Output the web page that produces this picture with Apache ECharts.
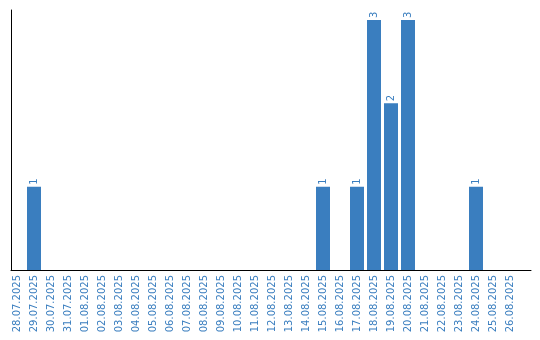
<!DOCTYPE html>
<html><head><meta charset="utf-8">
<script src="https://cdn.jsdelivr.net/npm/echarts@6/dist/echarts.min.js"></script>
<style>html,body{margin:0;padding:0;background:#fff}#c{width:540px;height:340px}</style>
</head><body><div id="c"></div>
<script>
const categories = ["28.07.2025","29.07.2025","30.07.2025","31.07.2025","01.08.2025","02.08.2025","03.08.2025","04.08.2025","05.08.2025","06.08.2025","07.08.2025","08.08.2025","09.08.2025","10.08.2025","11.08.2025","12.08.2025","13.08.2025","14.08.2025","15.08.2025","16.08.2025","17.08.2025","18.08.2025","19.08.2025","20.08.2025","21.08.2025","22.08.2025","23.08.2025","24.08.2025","25.08.2025","26.08.2025"];
const values = [0,1,0,0,0,0,0,0,0,0,0,0,0,0,0,0,0,0,1,0,1,3,2,3,0,0,0,1,0,0];
const blue = '#3a7ebf';
const chart = echarts.init(document.getElementById('c'), null, {renderer:'canvas'});
chart.setOption({
  animation:false,
  grid:[{left:8.5, right:21.5, top:10, bottom:70},
        {left:11, right:9, top:10, bottom:70}],
  xAxis:[{type:'category', data:categories, gridIndex:0,
    axisLine:{show:false},
    axisTick:{show:false},
    axisLabel:{rotate:90, interval:0, color:blue, fontSize:10, fontFamily:'DejaVu Sans', margin:5}},
    {type:'value', gridIndex:1, min:0, max:1,
    axisLine:{show:true, lineStyle:{color:'#000', width:1}},
    axisTick:{show:false}, axisLabel:{show:false}, splitLine:{show:false}}],
  yAxis:[{type:'value', min:0, max:3.12, gridIndex:0,
    axisLine:{show:false},
    axisTick:{show:false}, axisLabel:{show:false}, splitLine:{show:false}},
    {type:'value', gridIndex:1, min:0, max:1,
    axisLine:{show:true, lineStyle:{color:'#000', width:1}},
    axisTick:{show:false}, axisLabel:{show:false}, splitLine:{show:false}}],
  series:[{type:'bar', data:values, barWidth:14, xAxisIndex:0, yAxisIndex:0,
    itemStyle:{color:blue},
    label:{show:true, position:'top', rotate:90, align:'left', verticalAlign:'middle', distance:2,
      color:blue, fontSize:10, fontFamily:'DejaVu Sans',
      formatter:p=>p.value>0?String(p.value):''}}]
});
</script></body></html>
